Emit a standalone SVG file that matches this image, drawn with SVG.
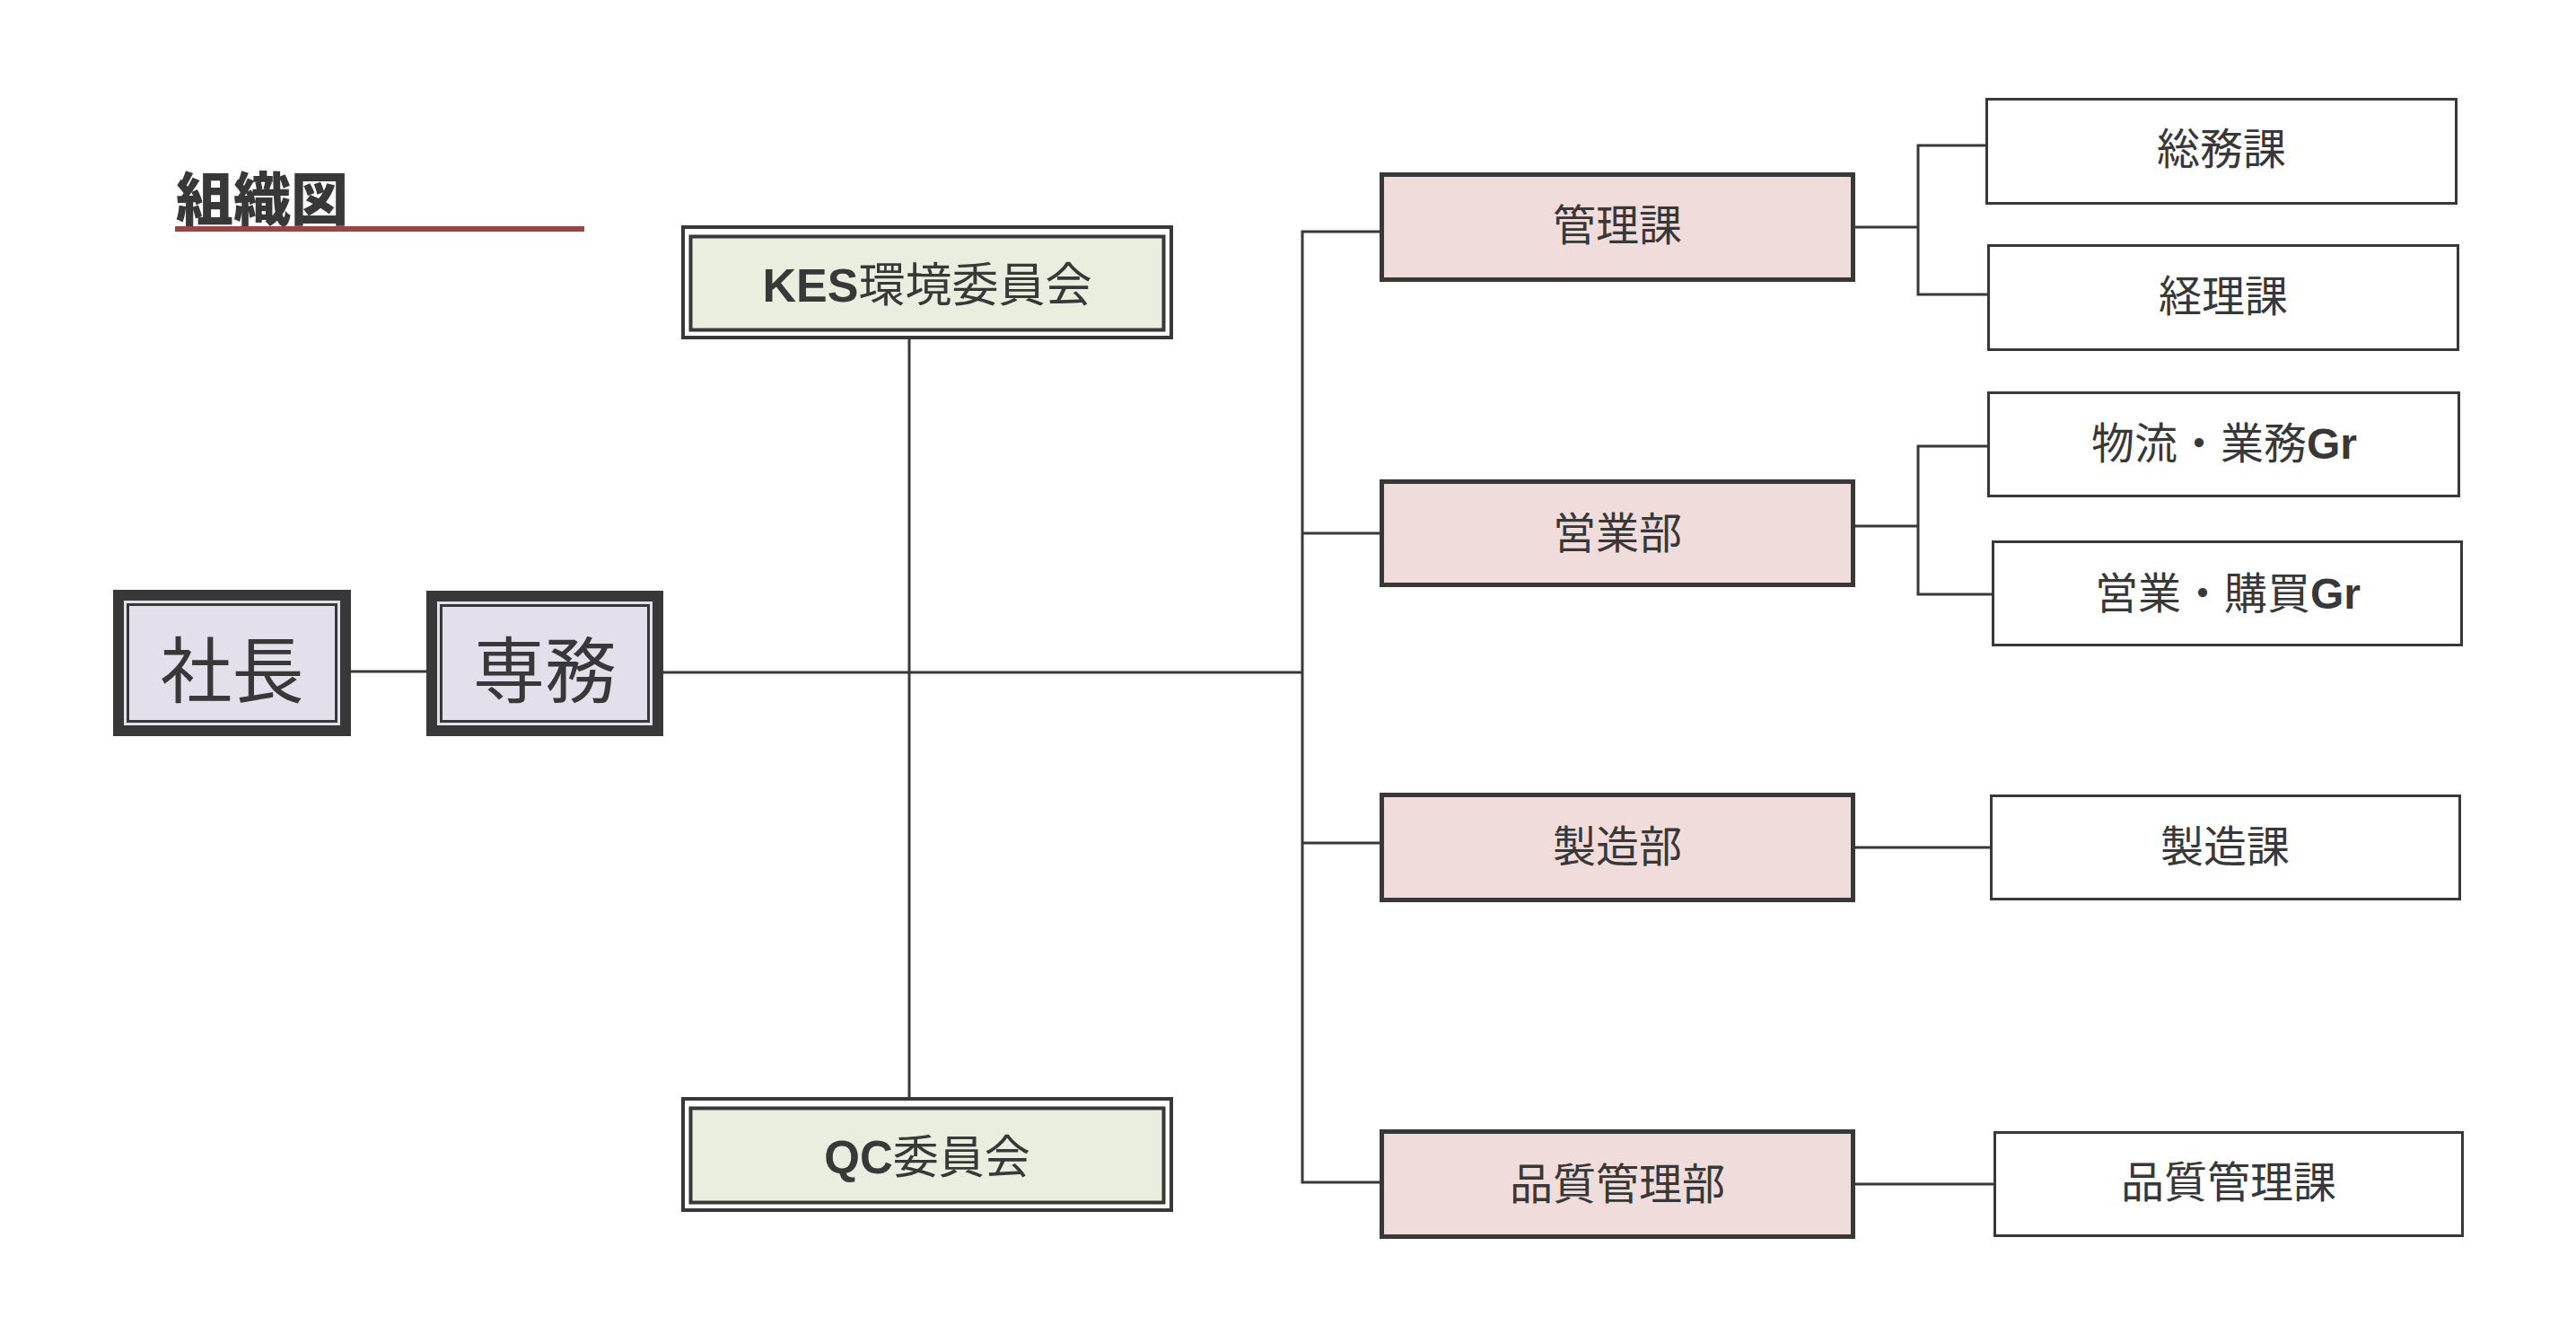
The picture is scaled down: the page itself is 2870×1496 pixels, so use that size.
<svg xmlns="http://www.w3.org/2000/svg" width="2870" height="1496" viewBox="0 0 2870 1496">
<style>
.t{font-family:"Noto Sans CJK JP","Liberation Sans",sans-serif;fill:#383838;text-anchor:middle}
.lat{font-family:"Liberation Sans","Noto Sans CJK JP",sans-serif;font-weight:bold}
.top{stroke:#383838;stroke-width:12;fill:#e3dfeb}
.topin{stroke:#383838;stroke-width:3;fill:none}
.comout{stroke:#383838;stroke-width:4;fill:#ffffff}
.comin{stroke:#383838;stroke-width:4;fill:#e9eedf}
.dept{stroke:#383838;stroke-width:5;fill:#f1dcdc}
.sec{stroke:#383838;stroke-width:3;fill:#ffffff}
.ln{stroke:#383838;stroke-width:3;fill:none}
</style>
<rect width="2870" height="1496" fill="#ffffff"/>
<g id="title">
<text class="t" x="292" y="245" font-size="64" font-weight="900">組織図</text>
<rect x="195" y="252" width="456" height="6" fill="#9c4343"/>
</g>
<g id="connectors">
<path class="ln" d="M391 748 H475"/>
<path class="ln" d="M739 749 H1451"/>
<path class="ln" d="M1013 378 V1222"/>
<path class="ln" d="M1537 258 H1451 V1317 H1537"/>
<path class="ln" d="M1451 594 H1537"/>
<path class="ln" d="M1451 939 H1537"/>
<path class="ln" d="M2067 253 H2137"/>
<path class="ln" d="M2212 162 H2137 V328 H2214"/>
<path class="ln" d="M2067 586 H2137"/>
<path class="ln" d="M2214 497 H2137 V662 H2219"/>
<path class="ln" d="M2067 944 H2217"/>
<path class="ln" d="M2067 1319 H2221"/>
</g>
<g id="shacho">
<rect class="top" x="132" y="663" width="253" height="151"/>
<rect class="topin" x="142.5" y="673.5" width="232" height="130"/>
<text class="t" x="258.5" y="776" font-size="80">社長</text>
</g>
<g id="senmu">
<rect class="top" x="481" y="664" width="252" height="150"/>
<rect class="topin" x="491.5" y="674.5" width="231" height="129"/>
<text class="t" x="607" y="776" font-size="80">専務</text>
</g>
<g id="kes">
<rect class="comout" x="761" y="253" width="544" height="123"/>
<rect class="comin" x="769.5" y="263.5" width="527" height="104"/>
<text class="t" x="1033" y="336" font-size="52"><tspan class="lat">KES</tspan>環境委員会</text>
</g>
<g id="qc">
<rect class="comout" x="761" y="1224" width="544" height="124"/>
<rect class="comin" x="769.5" y="1234.5" width="527" height="105"/>
<text class="t" x="1033" y="1307" font-size="51"><tspan class="lat">QC</tspan>委員会</text>
</g>
<g id="kanri">
<rect class="dept" x="1539.5" y="194.5" width="525" height="117"/>
<text class="t" x="1802" y="268" font-size="48">管理課</text>
</g>
<g id="eigyo">
<rect class="dept" x="1539.5" y="536.5" width="525" height="115"/>
<text class="t" x="1802" y="611" font-size="48">営業部</text>
</g>
<g id="seizo">
<rect class="dept" x="1539.5" y="885.5" width="525" height="117"/>
<text class="t" x="1802" y="960" font-size="48">製造部</text>
</g>
<g id="hinshitsu">
<rect class="dept" x="1539.5" y="1260.5" width="525" height="117"/>
<text class="t" x="1802" y="1336" font-size="48">品質管理部</text>
</g>
<g id="somu">
<rect class="sec" x="2213.5" y="110.5" width="523" height="116"/>
<text class="t" x="2475" y="183" font-size="48">総務課</text>
</g>
<g id="keiri">
<rect class="sec" x="2215.5" y="273.5" width="523" height="116"/>
<text class="t" x="2477" y="347" font-size="48">経理課</text>
</g>
<g id="butsuryu">
<rect class="sec" x="2215.5" y="437.5" width="524" height="115"/>
<text class="t" x="2478" y="511" font-size="48">物流・業務<tspan class="lat">Gr</tspan></text>
</g>
<g id="eigyokobai">
<rect class="sec" x="2220.5" y="603.5" width="522" height="115"/>
<text class="t" x="2482" y="678" font-size="48">営業・購買<tspan class="lat">Gr</tspan></text>
</g>
<g id="seizoka">
<rect class="sec" x="2218.5" y="886.5" width="522" height="115"/>
<text class="t" x="2479" y="960" font-size="48">製造課</text>
</g>
<g id="hinshitsuka">
<rect class="sec" x="2222.5" y="1261.5" width="521" height="115"/>
<text class="t" x="2483" y="1334" font-size="48">品質管理課</text>
</g>
</svg>
